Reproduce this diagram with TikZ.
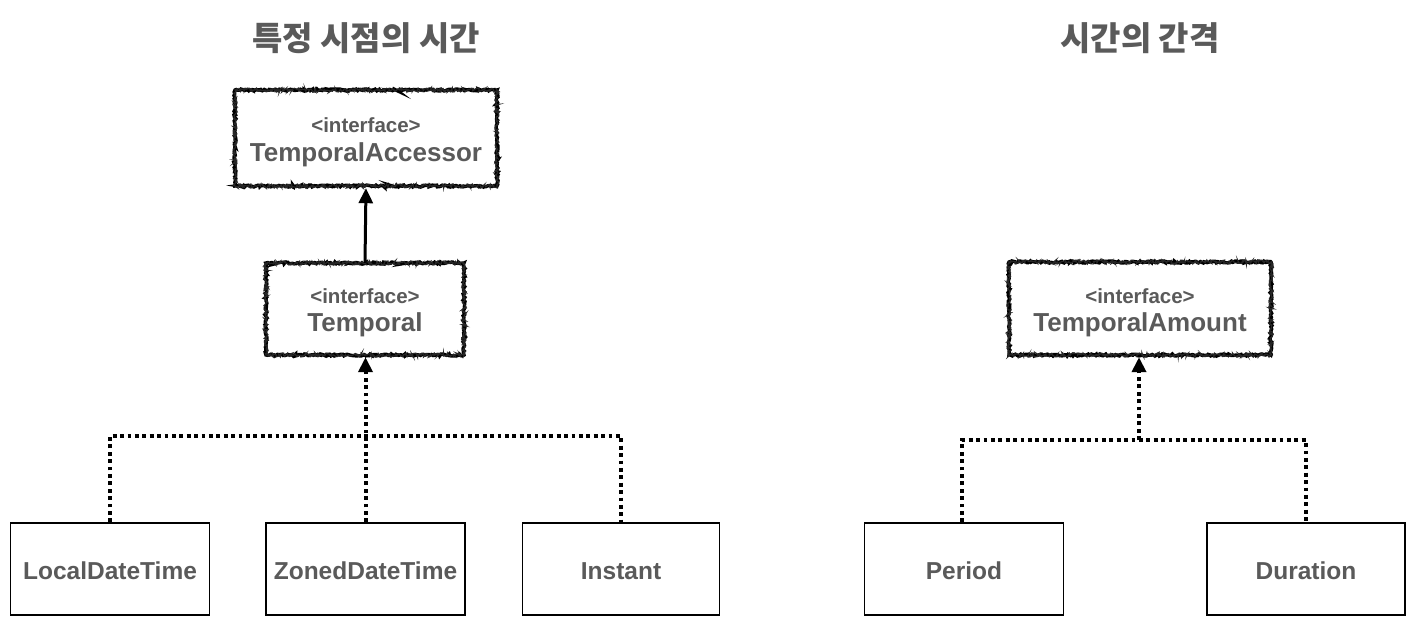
\documentclass[tikz,border=0pt]{standalone}
\usepackage{fontspec}
\setmainfont{Liberation Sans}
\newfontfamily\kr{Noto Sans CJK KR}
\usetikzlibrary{arrows.meta,decorations.pathmorphing}
\definecolor{txt}{HTML}{5A5A5A}
\tikzset{
  every node/.style={text=txt, font=\bfseries, align=center, inner sep=0pt},
  sketchbox/.style={minimum width=#1, minimum height=92pt,
    postaction={draw=black, line width=3.4pt, decorate,
      decoration={random steps, segment length=1.5pt, amplitude=1pt}},
    postaction={draw=black!85, line width=1.2pt, decorate,
      decoration={random steps, segment length=1pt, amplitude=2pt}}},
  classbox/.style={draw=black, line width=1.8pt, minimum width=#1, minimum height=92pt,
    text height=20pt, text depth=0pt, font=\bfseries\fontsize{24.5}{26}\selectfont},
  iface/.style={font=\fontsize{20.5}{22}\selectfont\bfseries},
  iname/.style={font=\fontsize{26}{28}\selectfont\bfseries},
  title/.style={font=\kr\bfseries\fontsize{33}{36}\selectfont},
  dotline/.style={draw=black, line width=4pt, dash pattern=on 3.8pt off 3.6pt},
  dotarrow/.style={dotline, -{Triangle[width=14pt,length=15pt]}, shorten >=2pt},
  solidarrow/.style={draw=black, line width=3pt, -{Triangle[width=14pt,length=15pt]}, shorten >=2pt}
}
\begin{document}
\begin{tikzpicture}[x=1pt,y=-1pt]
\useasboundingbox[fill=white] (0,0) rectangle (1416,626);
\node[title] (t1) at (366,38) {특정 시점의 시간};
\node[title] (t2) at (1140,38) {시간의 간격};

\node[sketchbox=262pt, minimum height=96pt] (acc) at (366,138) {};
\node (accI) at (366,125) [iface] {<interface>};
\node (accN) at (366,155) [iname] {TemporalAccessor};

\node[sketchbox=198pt] (tmp) at (365,309) {};
\node (tmpI) at (365,296) [iface] {<interface>};
\node (tmpN) at (365,325) [iname] {Temporal};

\node[sketchbox=262pt, minimum height=93pt] (amt) at (1140,308.5) {};
\node (amtI) at (1140,296) [iface] {<interface>};
\node (amtN) at (1140,325) [iname] {TemporalAmount};

\node[classbox=199pt] (ldt) at (110,569) {LocalDateTime};
\node[classbox=199pt] (zdt) at (365.5,569) {ZonedDateTime};
\node[classbox=197pt] (ins) at (621,569) {Instant};
\node[classbox=199pt] (per) at (964,569) {Period};
\node[classbox=198pt] (dur) at (1306,569) {Duration};

\draw[solidarrow] (tmp.north) -- (acc.south);

\coordinate (j1) at (365.5,436);
\draw[dotline] (ldt.north) |- (j1) -| (ins.north);
\draw[dotarrow] (zdt.north) -- (zdt.north |- tmp.south);

\coordinate (j2) at (1139,440);
\draw[dotline] (per.north -| 962,0) |- (j2) -| (dur.north);
\draw[dotarrow] (j2) -- (j2 |- amt.south);
\end{tikzpicture}
\end{document}
